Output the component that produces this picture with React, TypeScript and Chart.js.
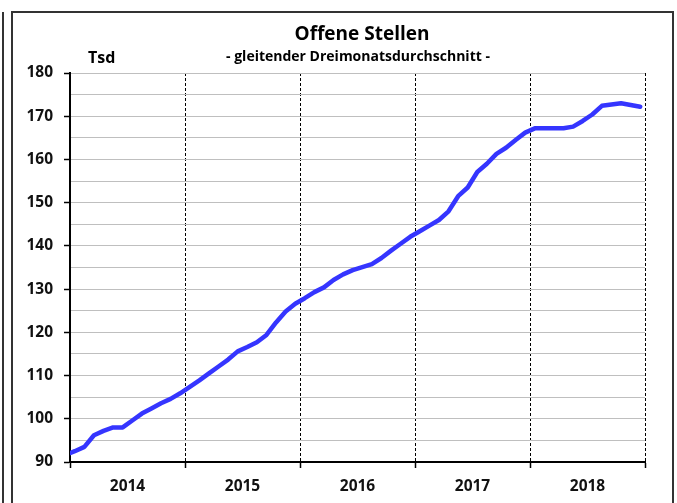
import React, { useEffect, useRef } from 'react';
import { Chart, registerables } from 'chart.js';

Chart.register(...registerables);

const titleText = 'Offene Stellen';
const subtitleText = '- gleitender Dreimonatsdurchschnitt -';
const unitText = 'Tsd';

const years = ['2014', '2015', '2016', '2017', '2018'];

// Dec 2013 lead-in value (drawn only up to the left axis)
const lead2013 = [91.6];
// Monthly values Jan..Dec (thousand vacancies)
const v2014 = [92.5, 93.5, 96.2, 97.2, 98.0, 98.0, 99.6, 101.2, 102.4, 103.6, 104.6, 105.9];
const v2015 = [107.4, 108.9, 110.5, 112.1, 113.7, 115.6, 116.6, 117.7, 119.4, 122.3, 124.8, 126.6];
const v2016 = [127.9, 129.3, 130.4, 132.1, 133.4, 134.4, 135.1, 135.8, 137.2, 138.9, 140.5, 142.1];
const v2017 = [143.4, 144.7, 146.0, 148.0, 151.5, 153.5, 157.1, 159.0, 161.3, 162.7, 164.5, 166.2];
const v2018 = [167.2, 167.2, 167.2, 167.2, 167.6, 168.9, 170.4, 172.4, 172.7, 173.0, 172.6, 172.2];

const yMin = 90;
const yMax = 180;
const yStep = 5;
const yLabelStep = 10;
const monthsPerYear = 12;

const FONT = '"Open Sans", "DejaVu Sans", sans-serif';

export default function App() {
  const canvasRef = useRef<HTMLCanvasElement | null>(null);

  useEffect(() => {
    const canvas = canvasRef.current;
    if (!canvas) return;
    const all = [...lead2013, ...v2014, ...v2015, ...v2016, ...v2017, ...v2018];
    // month centres: Jan 2014 occupies [0,1] -> centre 0.5; lead-in Dec 2013 -> -0.5
    const points = all.map((v, i) => ({ x: i - 0.5, y: v }));
    const xMax = years.length * monthsPerYear;

    const titlePlugin = {
      id: 'titles',
      afterDraw(chart: any) {
        const ctx = chart.ctx as CanvasRenderingContext2D;
        ctx.save();
        ctx.fillStyle = '#000';
        ctx.textBaseline = 'alphabetic';
        ctx.textAlign = 'center';
        ctx.font = `bold 19px ${FONT}`;
        ctx.fillText(titleText, 362, 40);
        ctx.font = `bold 14px ${FONT}`;
        ctx.fillText(subtitleText, 358, 61);
        ctx.textAlign = 'left';
        ctx.font = `bold 16px ${FONT}`;
        ctx.fillText(unitText, 88, 63);
        ctx.restore();
      },
    };

    const chart = new Chart(canvas, {
      type: 'line',
      data: {
        datasets: [
          {
            data: points,
            borderColor: '#3535ff',
            borderWidth: 4.5,
            pointRadius: 0,
            pointHoverRadius: 0,
            tension: 0,
            fill: false,
            borderJoinStyle: 'round',
            borderCapStyle: 'round',
          },
        ],
      },
      options: {
        responsive: false,
        animation: false,
        events: [],
        layout: { padding: { top: 73, right: 32, left: 0, bottom: 0 } },
        plugins: {
          legend: { display: false },
          tooltip: { enabled: false },
          title: { display: false },
        },
        scales: {
          x: {
            type: 'linear',
            min: 0,
            max: xMax,
            afterFit: (s: any) => {
              s.height = 41;
            },
            ticks: {
              stepSize: monthsPerYear / 2,
              autoSkip: false,
              maxRotation: 0,
              minRotation: 0,
              padding: 9,
              color: '#111',
              font: { family: FONT, size: 15.5, weight: 'bold' },
              callback: (value: any) => {
                const v = Number(value);
                if (v % monthsPerYear === monthsPerYear / 2) {
                  return years[(v - monthsPerYear / 2) / monthsPerYear];
                }
                return '';
              },
            },
            grid: {
              color: (ctx: any) => {
                const v = ctx.tick ? ctx.tick.value : -1;
                return v > 0 && v % monthsPerYear === 0 ? '#000' : 'rgba(0,0,0,0)';
              },
              tickColor: (ctx: any) => {
                const v = ctx.tick ? ctx.tick.value : -1;
                return v % monthsPerYear === 0 ? '#000' : 'rgba(0,0,0,0)';
              },
              lineWidth: 1,
              tickWidth: 1.5,
              tickLength: 6,
            },
            border: { display: true, color: '#000', width: 2, dash: [3, 2] },
          },
          y: {
            type: 'linear',
            min: yMin,
            max: yMax,
            afterFit: (s: any) => {
              s.width = 70;
            },
            ticks: {
              stepSize: yStep,
              autoSkip: false,
              padding: 11,
              color: '#111',
              font: { family: FONT, size: 15.5, weight: 'bold' },
              callback: (value: any) => {
                const v = Number(value);
                return v % yLabelStep === 0 ? String(v) : '';
              },
            },
            grid: {
              color: (ctx: any) => {
                const v = ctx.tick ? ctx.tick.value : yMin;
                return v === yMin ? 'rgba(0,0,0,0)' : '#bfbfbf';
              },
              tickColor: (ctx: any) => {
                const v = ctx.tick ? ctx.tick.value : 1;
                return v % yLabelStep === 0 ? '#000' : 'rgba(0,0,0,0)';
              },
              lineWidth: 1,
              tickWidth: 1.5,
              tickLength: 6,
            },
            border: { display: true, color: '#000', width: 2 },
          },
        },
      },
      plugins: [titlePlugin],
    } as any);

    return () => {
      chart.destroy();
    };
  }, []);

  return (
    <div
      style={{
        position: 'fixed',
        left: 0,
        top: 0,
        width: 677,
        height: 503,
        overflow: 'hidden',
        background: '#fff',
      }}
    >
      <div
        style={{
          position: 'absolute',
          left: 2,
          top: 12,
          width: 2,
          height: 491,
          background: '#333',
        }}
      />
      <div
        style={{
          position: 'absolute',
          left: 11,
          top: 11,
          width: 659,
          height: 520,
          border: '2px solid #333',
        }}
      />
      <canvas
        ref={canvasRef}
        width={677}
        height={503}
        style={{ position: 'absolute', left: 0, top: 0, width: 677, height: 503 }}
      />
    </div>
  );
}
